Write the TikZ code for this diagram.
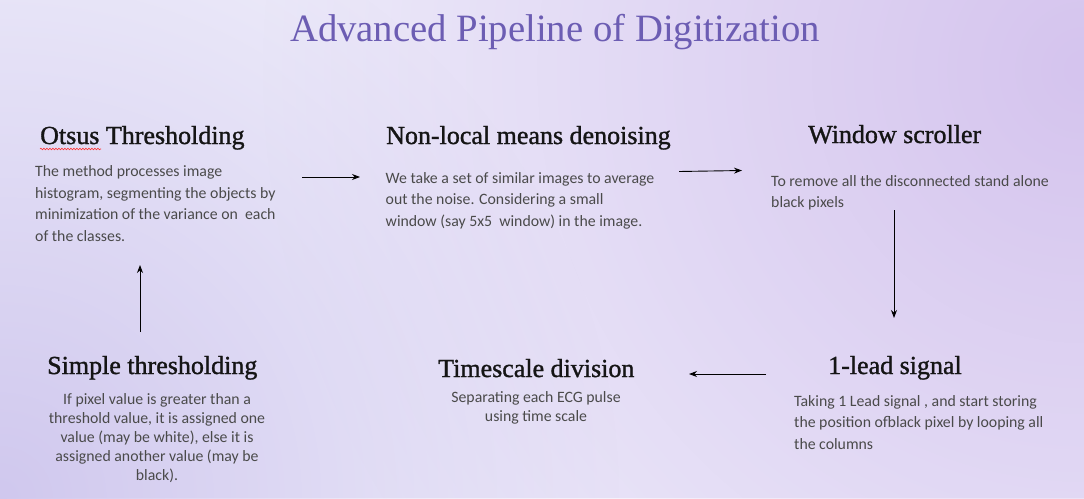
\documentclass[tikz,border=0pt]{standalone}
\usepackage{fontspec}
\setmainfont{Carlito}
\newfontfamily\headfont[FakeBold=1.2]{Liberation Serif}
\newfontfamily\titlefont{Liberation Serif}
\usetikzlibrary{arrows.meta,decorations.pathmorphing,fadings}
\definecolor{bgbase}{HTML}{EDEBFA}
\definecolor{bgpurple}{HTML}{D5C4EE}
\definecolor{bglilac}{HTML}{D0C8EE}
\definecolor{titlec}{HTML}{6C5DB3}
\definecolor{headc}{HTML}{151515}
\definecolor{bodyc}{HTML}{4A4A4A}
\tikzfading[name=glowfade, inner color=transparent!0, outer color=transparent!100]
\begin{document}
\begin{tikzpicture}[x=1pt,y=-1pt,
  heading/.style={anchor=base west, inner sep=0pt, font=\headfont\fontsize{26}{30}\selectfont, text=headc},
  body/.style={anchor=base west, inner sep=0pt, align=left, font=\fontsize{15.8}{21.5}\selectfont, text=bodyc},
  cbody/.style={anchor=base, inner sep=0pt, align=center, font=\fontsize{15.8}{19}\selectfont, text=bodyc},
  flow/.style={-{Stealth[length=8pt,width=6pt]}, line width=0.9pt, black}]
% background
\useasboundingbox (0,0) rectangle (1084,498);
\begin{scope}
\clip (0,0) rectangle (1084,498);
\fill[bgbase] (0,0) rectangle (1084,498);
\fill[bgpurple, path fading=glowfade] (1084,70) circle (820);
\fill[bglilac, path fading=glowfade] (0,498) circle (620);
\end{scope}
% title
\node[anchor=base, inner sep=0pt, font=\titlefont\fontsize{38.7}{42}\selectfont, text=titlec] (title) at (555,41) {Advanced Pipeline of Digitization};
% Otsus
\node[heading] (otsuH) at (40,144) {Otsus Thresholding};
\draw[red!80, line width=0.6pt, decorate, decoration={snake, amplitude=0.8pt, segment length=3pt}] ([yshift=-5pt]otsuH.base west) -- ++(61,0) coordinate (wavyEnd);
\node[body] (otsuB) at (35,241) {The method processes image\\histogram, segmenting the objects by\\minimization of the variance on\ \ each\\of the classes.};
% Non-local
\node[heading] (nlmH) at (386,144) {Non-local means denoising};
\node[body] (nlmB) at (385.5,226) {We take a set of similar images to average\\out the noise. Considering a small\\window (say 5x5\ \ window) in the image.};
% Window scroller
\node[heading] (winH) at (808,143) {Window scroller};
\node[body] (winB) at (771,207.5) {To remove all the disconnected stand alone\\black pixels};
% 1-lead signal
\node[heading] (leadH) at (828,374) {1-lead signal};
\node[body] (leadB) at (794,449) {Taking 1 Lead signal , and start storing\\the position ofblack pixel by looping all\\the columns};
% Timescale
\node[heading] (timeH) at (438,377) {Timescale division};
\node[cbody] (timeB) at (536,421) {Separating each ECG pulse\\using time scale};
% Simple thresholding
\node[heading] (simpH) at (47,374) {Simple thresholding};
\node[cbody] (simpB) at (157,480) {If pixel value is greater than a\\threshold value, it is assigned one\\value (may be white), else it is\\assigned another value (may be\\black).};
% arrow end points
\coordinate (a1s) at (302,177); \coordinate (a1e) at (360,177);
\coordinate (a2s) at (679,171.5); \coordinate (a2e) at (742,170.5);
\coordinate (a3s) at (894,210); \coordinate (a3e) at (894,318);
\coordinate (a4s) at (766,374); \coordinate (a4e) at (689,374);
\coordinate (a5s) at (140,332); \coordinate (a5e) at (140,265);
\draw[flow] (a1s) -- (a1e);
\draw[flow] (a2s) -- (a2e);
\draw[flow] (a3s) -- (a3e);
\draw[flow] (a4s) -- (a4e);
\draw[flow] (a5s) -- (a5e);
\end{tikzpicture}
\end{document}
